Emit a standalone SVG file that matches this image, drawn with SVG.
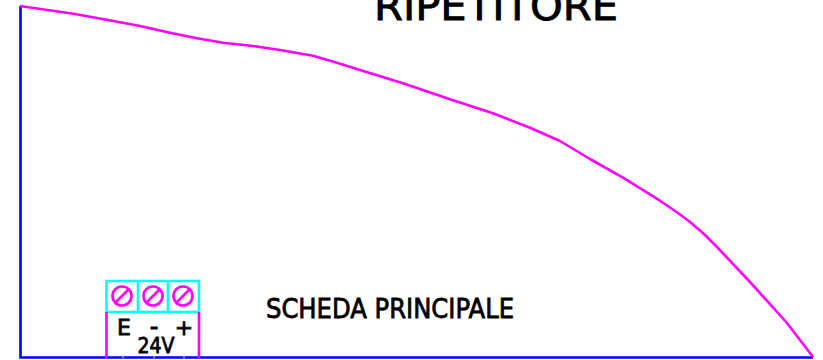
<svg xmlns="http://www.w3.org/2000/svg" width="823" height="360" viewBox="0 0 823 360">
<style>
.t{font-family:"DejaVu Sans","Liberation Sans",sans-serif;fill:#000;stroke:#000;stroke-width:.8}
.s{fill:none;stroke:#ff00ff;stroke-width:2.600;stroke-linejoin:round}
.c{fill:none;stroke:#00ffff;stroke-width:2.600}
</style>
<rect width="823" height="360" fill="#fff"/>
<g id="outline" fill="none">
<path d="M20.500 6V357.500H813" stroke="#0000ff" stroke-width="2.600"/>
<path class="s" d="M20 6L75 14L120 22.300L140 26L170 32.700L197 38.300L223 42.700L253 46L280 50L313 55.700L337 62.700L360 70L403 83.300L450 99.300L493 113.300L530 127.700L560 141L590 159L623 177.700L660 200.700L678 213L690 222L704 234L717 247L750 282L787 323L813 357"/>
</g>
<g id="title"><text class="t" x="496" y="20" font-size="39" text-anchor="middle" textLength="244" lengthAdjust="spacingAndGlyphs">RIPETITORE</text></g>
<g id="scheda"><text class="t" x="390" y="318" font-size="27" text-anchor="middle" textLength="248" lengthAdjust="spacingAndGlyphs">SCHEDA PRINCIPALE</text></g>
<g id="morsettiera">
<path class="c" d="M106.500 281H199V312H106.500ZM138 281V312M168 281V312"/>
<path class="s" d="M106.500 312V358M199 312V358"/>
<g class="s"><circle cx="122" cy="296" r="9.500"/><path d="M116 302L128 290"/><circle cx="153" cy="296" r="9.500"/><path d="M147 302L159 290"/><circle cx="183" cy="296" r="9.500"/><path d="M177 302L189 290"/></g>
<path d="M122 357h2M153 357h2M183 357h2" stroke="#888" stroke-width="2"/>
<text class="t" x="124" y="335" font-size="22" text-anchor="middle">E</text>
<text class="t" x="154" y="335" font-size="24" text-anchor="middle">-</text>
<text class="t" x="184" y="335" font-size="22" text-anchor="middle">+</text>
<text class="t" x="156" y="353" font-size="21" text-anchor="middle" textLength="37" lengthAdjust="spacingAndGlyphs">24V</text>
</g>
</svg>
